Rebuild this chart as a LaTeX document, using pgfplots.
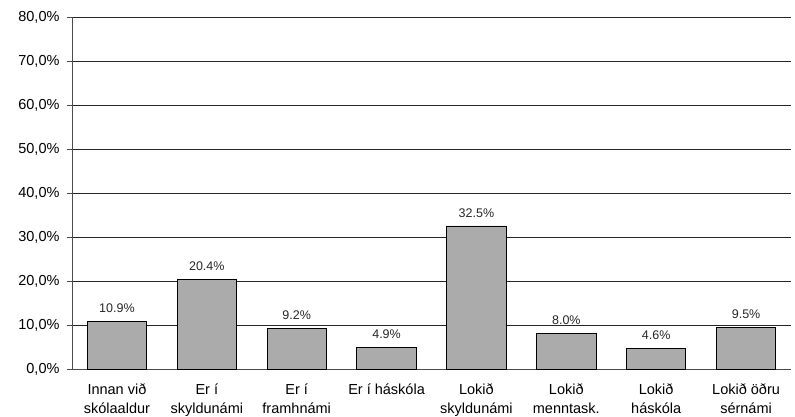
\documentclass[border=0pt]{standalone}
\usepackage{pgfplots}
\pgfplotsset{compat=1.18}
\usepackage{fontspec}
\setmainfont{Liberation Sans}
\begin{document}
\begin{tikzpicture}
\begin{axis}[
  scale only axis,
  width=719pt, height=352pt,
  xmin=-0.5, xmax=7.5,
  ymin=0, ymax=80,
  ytick={0,10,...,80},
  yticklabel={\pgfmathprintnumber[fixed,fixed zerofill,precision=1,use comma]{\tick}\%},
  /pgf/number format/assume math mode=true,
  ymajorgrids,
  grid style={black!85, line width=0.9pt},
  axis x line*=bottom,
  axis y line*=left,
  axis line style={black!70, line width=0.6pt},
  xtick={0,...,7},
  xticklabels={{Innan við\\skólaaldur},{Er í\\skyldunámi},{Er í\\framhnámi},{Er í háskóla},{Lokið\\skyldunámi},{Lokið\\menntask.},{Lokið\\háskóla},{Lokið öðru\\sérnámi}},
  xticklabel style={align=center, font=\fontsize{14.5}{19}\selectfont, inner sep=0pt},
  yticklabel style={font=\fontsize{14.5}{16}\selectfont, xshift=-4pt},
  extra x ticks={0.5,1.5,...,6.5},
  extra x tick labels={},
  extra x tick style={tick style={black!70, line width=0.6pt}},
  major x tick style={draw=none},
  major y tick style={black!70, line width=0.6pt},
  tick align=outside,
  major tick length=5pt,
  xticklabel shift=10pt,
  nodes near coords={\pgfmathprintnumber[fixed,fixed zerofill,precision=1]{\pgfplotspointmeta}\%},
  nodes near coords style={font=\fontsize{12.5}{14}\selectfont, text=black!85, yshift=5pt},
  point meta=y,
  clip=false,
]
\addplot[ybar, bar width=0.66, fill=black!33, draw=black, line width=0.9pt]
  coordinates {(0,10.9) (1,20.4) (2,9.2) (3,4.9) (4,32.5) (5,8.0) (6,4.6) (7,9.5)};
\end{axis}
\pgfresetboundingbox
\path ([xshift=-72pt,yshift=-48pt]current axis.south west) rectangle ([xshift=4pt,yshift=17pt]current axis.north east);
\end{tikzpicture}
\end{document}
